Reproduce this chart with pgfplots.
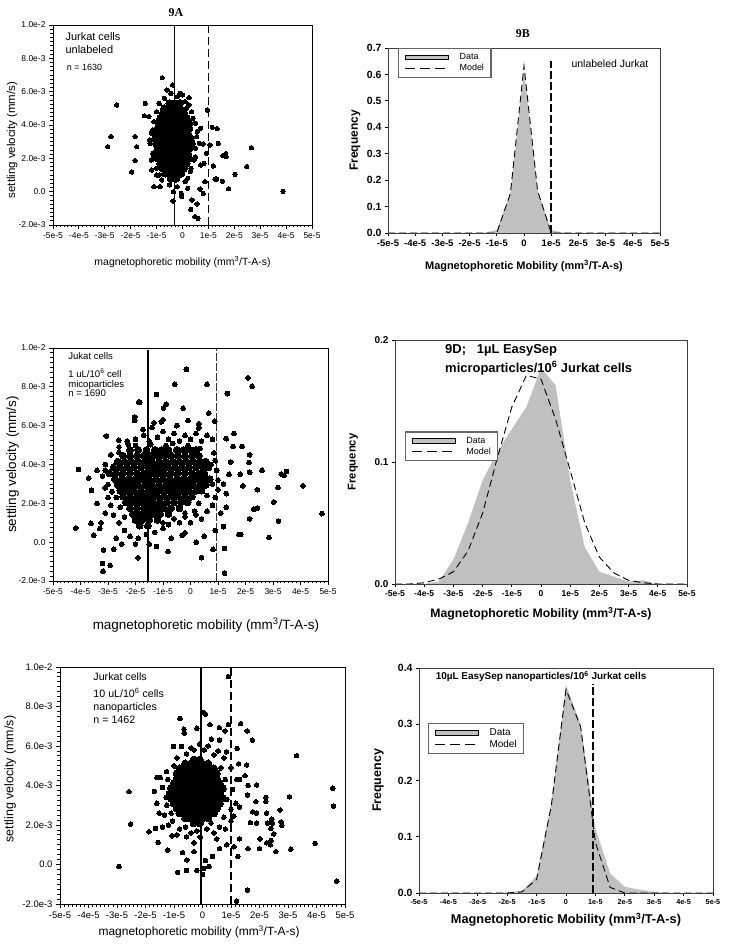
\documentclass[border=0pt]{standalone}
\usepackage{fontspec}
\setmainfont{Liberation Sans}
\newfontfamily\timesf{Liberation Serif}
\usepackage{pgfplots}
\pgfplotsset{compat=1.18}
\definecolor{hg}{RGB}{192,192,192}
\newcommand{\fs}[1]{\fontsize{#1}{#1}\selectfont}
\pgfplotsset{
 sc/.style={only marks, mark=*, mark size=#1, mark options={fill=black,draw=black,line width=0pt}},
 scat/.style={scale only axis, anchor=south west, axis on top, clip=false,
   xmin=-5,xmax=5,ymin=-2,ymax=10,
   xtick={-5,...,5}, xticklabels={-5e-5,-4e-5,-3e-5,-2e-5,-1e-5,0,1e-5,2e-5,3e-5,4e-5,5e-5},
   ytick={-2,0,2,4,6,8,10}, yticklabels={-2.0e-3,0.0,2.0e-3,4.0e-3,6.0e-3,8.0e-3,1.0e-2},
   minor x tick num=6, minor y tick num=7, tick pos=left, tick align=outside,
   major tick length=4bp, minor tick length=2.5bp,
   axis line style={line width=0.9bp}, every tick/.style={black,line width=0.8bp},
   xlabel style={anchor=center}, ylabel style={anchor=center}},
 hist/.style={scale only axis, anchor=south west, axis on top, clip=false,
   xmin=-5,xmax=5,ymin=0,
   xtick={-5,...,5}, xticklabels={-5e-5,-4e-5,-3e-5,-2e-5,-1e-5,0,1e-5,2e-5,3e-5,4e-5,5e-5},
   tick pos=left, tick align=outside, major tick length=3bp,
   axis line style={line width=0.8bp, black!75}, every tick/.style={black,line width=0.8bp},
   xlabel style={anchor=center}, ylabel style={anchor=center},
   legend cell align=left},
 leg/.style={anchor=north west, draw=black!60, line width=1.2bp,
    font=\fs{#1}, inner xsep=6bp, inner ysep=4bp, row sep=1bp, column sep=10bp,
    nodes={inner sep=1bp}},
 dataimg/.style={legend image code/.code={\draw[fill=hg,draw=black,line width=0.6bp] (0bp,-2.2bp) rectangle (43bp,2.2bp);}},
 modelimg/.style={legend image code/.code={\draw[black,line width=0.9bp,dash pattern=on 10bp off 5bp] (0bp,0bp) -- (43bp,0bp);}},
 mdash/.style={black,line width=0.9bp,dash pattern=on 7bp off 4bp},
}
\begin{document}
\begin{tikzpicture}
\path[use as bounding box] (0,0) rectangle (729bp,947bp);

% ---------------- 9A ----------------
\begin{axis}[scat, at={(53bp,722bp)}, width=259bp, height=200bp,
  ticklabel style={font=\fs{8.5}},
  title={\timesf\bfseries 9A}, title style={font=\fs{12}, at={(axis description cs:0.475,1.03)}, anchor=center},
  xlabel={magnetophoretic mobility (mm\textsuperscript{3}/T-A-s)},
  xlabel style={font=\fs{10.5}, at={(axis description cs:0.5,-0.185)}},
  ylabel={settling velocity (mm/s)},
  ylabel style={font=\fs{11.5}, at={(axis description cs:-0.158,0.425)}}]
\addplot[black, line width=1.2bp] coordinates {(-0.3,-2) (-0.3,10)};
\addplot[black, line width=1.2bp, dash pattern=on 8bp off 4bp] coordinates {(1.0,-2) (1.0,10)};
\addplot[sc=3.8] coordinates {
(-0.45,0.8)(-0.25,0.8)
(-0.65,1.1)(-0.45,1.1)(-0.25,1.1)(-0.05,1.1)
(-0.75,1.4)(-0.55,1.4)(-0.35,1.4)(-0.15,1.4)(0.05,1.4)
(-0.85,1.7)(-0.65,1.7)(-0.45,1.7)(-0.25,1.7)(-0.05,1.7)(0.15,1.7)
(-0.95,2.0)(-0.75,2.0)(-0.55,2.0)(-0.35,2.0)(-0.15,2.0)(0.05,2.0)(0.25,2.0)
(-1.0,2.3)(-0.8,2.3)(-0.6,2.3)(-0.4,2.3)(-0.2,2.3)(0.0,2.3)(0.2,2.3)
(-0.95,2.6)(-0.75,2.6)(-0.55,2.6)(-0.35,2.6)(-0.15,2.6)(0.05,2.6)(0.25,2.6)
(-1.0,2.9)(-0.8,2.9)(-0.6,2.9)(-0.4,2.9)(-0.2,2.9)(0.0,2.9)(0.2,2.9)(0.35,2.9)
(-1.05,3.2)(-0.85,3.2)(-0.65,3.2)(-0.45,3.2)(-0.25,3.2)(-0.05,3.2)(0.15,3.2)(0.3,3.2)
(-1.0,3.5)(-0.8,3.5)(-0.6,3.5)(-0.4,3.5)(-0.2,3.5)(0.0,3.5)(0.2,3.5)
(-0.95,3.8)(-0.75,3.8)(-0.55,3.8)(-0.35,3.8)(-0.15,3.8)(0.05,3.8)(0.25,3.8)
(-0.9,4.1)(-0.7,4.1)(-0.5,4.1)(-0.3,4.1)(-0.1,4.1)(0.1,4.1)(0.25,4.1)
(-0.85,4.4)(-0.65,4.4)(-0.45,4.4)(-0.25,4.4)(-0.05,4.4)(0.15,4.4)
(-0.75,4.7)(-0.55,4.7)(-0.35,4.7)(-0.15,4.7)(0.05,4.7)
(-0.7,5.0)(-0.5,5.0)(-0.3,5.0)(-0.1,5.0)
(-0.5,5.3)(-0.3,5.3)(-0.1,5.3)};
\addplot[sc=2.2] coordinates {
(-1.2,3.5)(-1.25,2.9)(-1.15,2.3)(-1.1,4.2)(-1.0,4.8)(-0.9,5.3)(-0.7,5.6)(-0.2,5.7)(0.1,5.4)
(0.35,4.8)(0.5,4.1)(0.55,3.3)(0.5,2.6)(0.45,1.9)(0.3,1.2)(0.1,0.6)(-0.2,0.3)(-0.5,0.4)
(-0.8,0.7)(-1.0,1.4)(-1.2,1.9)(-0.6,6.1)(-0.45,5.9)(0.65,2.9)(0.7,1.6)(-1.3,4.5)(0.2,0.2)
(-0.35,0.0)(-0.05,-0.1)(-0.9,1.0)(0.7,3.8)(0.25,5.2)
(-0.78,6.84)(-0.38,6.4)(-1.44,5.3)(-2.54,5.2)(-1.47,4.56)(-2.76,3.3)(-2.89,2.7)(-1.83,3.3)
(-1.77,2.7)(-1.83,1.86)(-1.96,1.18)(-1.19,1.3)(-1.10,0.3)(-0.87,0.3)(-0.36,-0.56)(-0.03,-0.3)
(0.36,-0.5)(0.32,-1.06)(0.56,-0.74)(0.48,-1.5)(0.6,-1.6)(0.68,0.16)(0.8,-0.1)(0.87,0.6)
(0.83,1.7)(0.93,2.3)(0.96,4.9)(0.8,2.86)(1.15,3.86)(1.34,3.78)(1.38,2.9)(1.06,2.8)(1.19,1.54)
(1.32,0.76)(1.26,0.75)(1.54,0.62)(1.55,2.16)(1.67,2.28)(1.68,2.1)(1.78,0.18)(2.03,1.04)
(2.48,1.5)(2.66,2.64)(3.88,0.02)(-0.1,5.9)(0.0,5.8)(0.25,5.64)(0.16,5.0)(-1.14,3.7)
(-1.27,3.1)(-1.1,2.1)(-1.0,1.0)(0.2,0.8)(0.33,1.4)(0.5,2.1)(0.57,3.6)(0.4,4.4)};
\node[anchor=west,font=\fs{11}] at (rel axis cs:0.035,0.94) {Jurkat cells};
\node[anchor=west,font=\fs{11}] at (rel axis cs:0.035,0.875) {unlabeled};
\node[anchor=west,font=\fs{9}] at (rel axis cs:0.04,0.79) {n = 1630};
\end{axis}

% ---------------- 9B ----------------
\begin{axis}[hist, at={(388bp,714bp)}, width=272bp, height=185bp, ymax=0.7,
  ytick={0,0.1,...,0.7}, yticklabels={0.0,0.1,0.2,0.3,0.4,0.5,0.6,0.7},
  yticklabel style={font=\bfseries\fs{10.5}}, xticklabel style={font=\bfseries\fs{9.5}},
  title={\timesf\bfseries 9B}, title style={font=\fs{12}, at={(axis description cs:0.496,1.043)}, anchor=center},
  xlabel={Magnetophoretic Mobility (mm\textsuperscript{3}/T-A-s)},
  xlabel style={font=\bfseries\fs{11}, at={(axis description cs:0.5,-0.178)}},
  ylabel={Frequency}, ylabel style={font=\bfseries\fs{12}, at={(axis description cs:-0.121,0.5)}},
  legend style={leg=9, at={(rel axis cs:0.037,1.0)}}]
\addplot[fill=hg, draw=none, dataimg] coordinates {
(-5,0)(-4.5,0)(-4,0)(-3.5,0)(-3,0)(-2.5,0)(-2,0)(-1.5,0)(-1,0.012)(-0.5,0.15)(0,0.615)
(0.5,0.16)(1,0.012)(1.5,0)(2,0)(2.5,0)(3,0)(3.5,0)(4,0)(4.5,0)(5,0)} \closedcycle;
\addplot[mdash, modelimg] coordinates {
(-5,0)(-4.5,0)(-4,0)(-3.5,0)(-3,0)(-2.5,0)(-2,0)(-1.5,0)(-1,0)(-0.5,0.15)(0,0.632)
(0.5,0.16)(1,0)(1.5,0)(2,0)(2.5,0)(3,0)(3.5,0)(4,0)(4.5,0)(5,0)};
\addplot[black, line width=2bp, dash pattern=on 8bp off 3bp, forget plot] coordinates {(1,0) (1,0.65)};
\legend{Data,Model}
\node[font=\fs{10.5}] at (rel axis cs:0.816,0.914) {unlabeled Jurkat};
\end{axis}

% ---------------- 9C (scatter, microparticles) ----------------
\begin{axis}[scat, at={(53bp,366bp)}, width=275bp, height=233bp,
  ticklabel style={font=\fs{8.5}},
  xlabel={magnetophoretic mobility (mm\textsuperscript{3}/T-A-s)},
  xlabel style={font=\fs{13.5}, at={(axis description cs:0.556,-0.189)}},
  ylabel={settling velocity (mm/s)},
  ylabel style={font=\fs{13.5}, at={(axis description cs:-0.147,0.5)}}]
\addplot[black, line width=1.3bp] coordinates {(-1.55,-2) (-1.55,9.9)};
\addplot[black!80, line width=1.6bp, dash pattern=on 8bp off 2bp] coordinates {(0.94,-2) (0.94,10)};
\addplot[sc=3.5] coordinates {
(-2.2,4.75)(-1.9,4.75)(-1.6,4.75)(-1.3,4.75)(-1.05,4.75)(-0.8,4.75)(-0.5,4.75)(-0.25,4.75)(0.0,4.75)(0.2,4.75)
(-2.45,4.45)(-2.2,4.45)(-1.95,4.45)(-1.7,4.45)(-1.45,4.45)(-1.2,4.45)(-0.95,4.45)(-0.7,4.45)(-0.45,4.45)(-0.2,4.45)(0.05,4.45)(0.3,4.45)
(-2.65,4.15)(-2.4,4.15)(-2.15,4.15)(-1.9,4.15)(-1.65,4.15)(-1.4,4.15)(-1.15,4.15)(-0.9,4.15)(-0.65,4.15)(-0.4,4.15)(-0.15,4.15)(0.1,4.15)(0.35,4.15)(0.55,4.15)
(-2.8,3.85)(-2.55,3.85)(-2.3,3.85)(-2.05,3.85)(-1.8,3.85)(-1.55,3.85)(-1.3,3.85)(-1.05,3.85)(-0.8,3.85)(-0.55,3.85)(-0.3,3.85)(-0.05,3.85)(0.2,3.85)(0.45,3.85)(0.65,3.85)
(-2.95,3.55)(-2.7,3.55)(-2.45,3.55)(-2.2,3.55)(-1.95,3.55)(-1.7,3.55)(-1.45,3.55)(-1.2,3.55)(-0.95,3.55)(-0.7,3.55)(-0.45,3.55)(-0.2,3.55)(0.05,3.55)(0.3,3.55)(0.5,3.55)
(-2.75,3.25)(-2.5,3.25)(-2.25,3.25)(-2.0,3.25)(-1.75,3.25)(-1.5,3.25)(-1.25,3.25)(-1.0,3.25)(-0.75,3.25)(-0.5,3.25)(-0.25,3.25)(0.0,3.25)(0.25,3.25)(0.5,3.25)(0.7,3.25)
(-2.65,2.95)(-2.4,2.95)(-2.15,2.95)(-1.9,2.95)(-1.65,2.95)(-1.4,2.95)(-1.15,2.95)(-0.9,2.95)(-0.65,2.95)(-0.4,2.95)(-0.15,2.95)(0.1,2.95)(0.35,2.95)(0.55,2.95)
(-2.55,2.65)(-2.3,2.65)(-2.05,2.65)(-1.8,2.65)(-1.55,2.65)(-1.3,2.65)(-1.05,2.65)(-0.8,2.65)(-0.55,2.65)(-0.3,2.65)(-0.05,2.65)(0.2,2.65)(0.4,2.65)
(-2.45,2.35)(-2.2,2.35)(-1.95,2.35)(-1.7,2.35)(-1.45,2.35)(-1.2,2.35)(-0.95,2.35)(-0.7,2.35)(-0.45,2.35)(-0.2,2.35)(0.05,2.35)
(-2.35,2.05)(-2.1,2.05)(-1.85,2.05)(-1.6,2.05)(-1.35,2.05)(-1.1,2.05)(-0.85,2.05)(-0.6,2.05)(-0.35,2.05)(-0.1,2.05)
(-2.2,1.75)(-1.95,1.75)(-1.7,1.75)(-1.45,1.75)(-1.2,1.75)(-0.95,1.75)(-0.7,1.75)(-0.4,1.75)
(-2.1,1.45)(-1.85,1.45)(-1.6,1.45)(-1.35,1.45)(-1.1,1.45)(-0.8,1.45)
(-2.0,1.15)(-1.75,1.15)(-1.5,1.15)(-1.2,1.15)
(-1.85,0.85)(-1.55,0.85)};
\addplot[sc=2.4] coordinates {
(-0.15,8.9)(2.09,8.46)(2.24,8.03)(-0.57,8.13)(0.6,8.13)(1.34,7.65)(-1.24,7.6)(-1.88,7.22)(-1.85,7.2)
(-0.88,7.1)(-0.98,6.9)(-0.27,6.9)(0.67,6.65)(-2.03,6.45)(-1.0,6.3)(-2.03,6.27)(-1.33,6.15)(-1.06,6.2)
(-0.09,6.27)(0.88,6.23)(0.3,5.88)(-1.73,5.8)(-3.06,5.47)(-2.61,5.25)(-2.27,5.05)(1.3,5.33)(1.58,5.6)
(1.55,4.93)(1.87,4.93)(1.46,4.13)(1.81,3.5)(2.15,3.6)(2.13,4.1)(2.15,4.5)(2.6,3.7)(3.18,2.81)(3.3,3.51)
(3.49,3.64)(3.4,3.45)(4.09,2.9)(4.78,1.47)(3.03,2.07)(3.2,1.08)(2.85,0.24)(2.43,1.76)(2.3,1.7)(2.43,2.7)
(2.15,1.2)(1.9,2.9)(1.83,0.4)(1.76,0.4)(1.24,-0.33)(1.24,-1.6)(0.82,-0.37)(0.4,-0.8)(0.21,0.0)(-0.2,0.48)
(-0.3,0.36)(-0.82,-0.48)(-1.24,-0.22)(-1.91,-0.8)(-2.79,-0.37)(-3.16,-0.4)(-2.92,-1.2)(-3.2,-1.1)(-3.18,-1.5)
(-4.17,0.73)(-4.07,3.74)(-3.7,3.3)(-3.6,2.67)(-3.4,1.99)(-3.52,0.36)(-3.62,0.97)(-3.25,1.0)(-3.3,0.7)
(-3.1,1.5)(-3.0,2.97)(-3.4,3.7)
(-2.0,5.3)(-1.7,5.5)(-1.5,5.2)(-1.2,5.4)(-1.0,5.7)(-0.8,5.3)(-0.6,5.6)(-0.4,5.2)(-0.2,5.5)(0.0,5.3)
(0.2,5.6)(0.4,5.2)(0.6,5.5)(0.8,5.3)(-2.3,5.2)(-1.4,5.9)(-0.5,6.0)(0.3,6.1)(-2.6,4.9)(-2.9,4.5)(-3.1,4.0)
(-3.2,3.4)(-3.1,2.8)(-3.0,2.3)(-2.9,1.9)(-2.8,1.4)(-2.6,1.0)(-2.4,0.6)(-2.2,0.3)(-1.9,0.2)(-1.6,0.4)
(-1.3,0.5)(-1.0,0.7)(-0.8,0.9)(-0.6,1.2)(-0.4,1.0)(-0.2,1.3)(0.0,1.0)(0.2,1.4)(0.4,1.2)(0.6,1.6)(0.8,1.9)
(0.9,2.3)(1.0,2.7)(1.0,3.2)(0.95,3.7)(0.9,4.2)(0.85,4.6)(1.2,3.0)(1.3,2.5)(1.4,3.5)(1.1,1.5)(1.3,1.8)
(1.2,0.8)(0.9,0.6)(0.5,0.3)(-0.7,0.2)(-1.5,-0.1)(-2.5,-0.1)(-2.7,0.2)(-2.0,-0.1)
(-2.0,4.98)(-1.45,5.02)(-0.9,4.97)(-0.65,5.08)(-0.1,4.97)(0.35,4.82)(-2.6,4.62)(-3.1,3.7)(0.75,4.0)
(0.8,3.0)(0.6,2.4)(0.3,2.0)(0.15,1.6)(-0.2,1.5)(-0.6,1.2)(-1.0,1.0)(-2.4,1.3)(-2.55,1.8)(-2.7,2.3)(-2.85,2.6)};
\node[anchor=west,font=\fs{9.6}] at (rel axis cs:0.043,0.964) {Jukat cells};
\node[anchor=west,font=\fs{9.6}] at (rel axis cs:0.043,0.893) {1 uL/10\textsuperscript{6} cell};
\node[anchor=west,font=\fs{9.6}] at (rel axis cs:0.043,0.843) {micoparticles};
\node[anchor=west,font=\fs{9.6}] at (rel axis cs:0.043,0.805) {n = 1690};
\end{axis}

% ---------------- 9D ----------------
\begin{axis}[hist, at={(395bp,363bp)}, width=292bp, height=244bp, ymax=0.2,
  ytick={0,0.1,0.2}, yticklabels={0.0,0.1,0.2},
  yticklabel style={font=\bfseries\fs{10}}, xticklabel style={font=\bfseries\fs{8.6}},
  xlabel={Magnetophoretic Mobility (mm\textsuperscript{3}/T-A-s)},
  xlabel style={font=\bfseries\fs{12.3}, at={(axis description cs:0.5,-0.123)}},
  ylabel={Frequency}, ylabel style={font=\bfseries\fs{11.3}, at={(axis description cs:-0.144,0.5)}},
  legend style={leg=9, at={(rel axis cs:0.034,0.625)}}]
\addplot[fill=hg, draw=none, dataimg] coordinates {
(-5,0)(-4.5,0)(-4,0)(-3.5,0.002)(-3,0.02)(-2.5,0.05)(-2,0.085)(-1.5,0.108)(-1,0.127)(-0.5,0.145)(0,0.177)
(0.5,0.163)(1,0.085)(1.5,0.03)(2,0.01)(2.5,0.006)(3,0.002)(3.5,0.003)(4,0)(4.5,0)(5,0)} \closedcycle;
\addplot[mdash, modelimg] coordinates {
(-5,0)(-4.5,0)(-4,0.001)(-3.5,0.004)(-3,0.01)(-2.5,0.027)(-2,0.058)(-1.5,0.103)(-1,0.145)(-0.5,0.171)(0,0.168)
(0.5,0.135)(1,0.093)(1.5,0.05)(2,0.022)(2.5,0.009)(3,0.003)(3.5,0.001)(4,0)(4.5,0)(5,0)};
\legend{Data,Model}
\node[anchor=west,font=\bfseries\fs{13}] at (rel axis cs:0.16,0.959) {9D;\ \ \ 1µL EasySep};
\node[anchor=west,font=\bfseries\fs{13}] at (rel axis cs:0.16,0.884) {microparticles/10\textsuperscript{6} Jurkat cells};
\end{axis}

% ---------------- 9E (scatter, nanoparticles) ----------------
\begin{axis}[scat, at={(60bp,43bp)}, width=285bp, height=237bp,
  ticklabel style={font=\fs{9.5}},
  xlabel={magnetophoretic mobility (mm\textsuperscript{3}/T-A-s)},
  xlabel style={font=\fs{12}, at={(axis description cs:0.488,-0.118)}},
  ylabel={settling velocity (mm/s)},
  ylabel style={font=\fs{12.5}, at={(axis description cs:-0.175,0.527)}}]
\addplot[black, line width=1.3bp] coordinates {(-0.05,-2) (-0.05,10)};
\addplot[black, line width=1.3bp, dash pattern=on 8bp off 4bp] coordinates {(1.0,-2) (1.0,10)};
\addplot[sc=3.8] coordinates {
(-0.3,2.1)(-0.1,2.1)
(-0.6,2.35)(-0.4,2.35)(-0.2,2.35)(0.0,2.35)(0.2,2.35)
(-0.8,2.6)(-0.6,2.6)(-0.4,2.6)(-0.2,2.6)(0.0,2.6)(0.2,2.6)(0.4,2.6)
(-0.9,2.85)(-0.7,2.85)(-0.5,2.85)(-0.3,2.85)(-0.1,2.85)(0.1,2.85)(0.3,2.85)(0.5,2.85)
(-1.0,3.1)(-0.8,3.1)(-0.6,3.1)(-0.4,3.1)(-0.2,3.1)(0.0,3.1)(0.2,3.1)(0.4,3.1)(0.6,3.1)
(-1.1,3.35)(-0.9,3.35)(-0.7,3.35)(-0.5,3.35)(-0.3,3.35)(-0.1,3.35)(0.1,3.35)(0.3,3.35)(0.5,3.35)(0.7,3.35)
(-1.0,3.6)(-0.8,3.6)(-0.6,3.6)(-0.4,3.6)(-0.2,3.6)(0.0,3.6)(0.2,3.6)(0.4,3.6)(0.6,3.6)
(-1.1,3.85)(-0.9,3.85)(-0.7,3.85)(-0.5,3.85)(-0.3,3.85)(-0.1,3.85)(0.1,3.85)(0.3,3.85)(0.5,3.85)(0.7,3.85)
(-1.0,4.1)(-0.8,4.1)(-0.6,4.1)(-0.4,4.1)(-0.2,4.1)(0.0,4.1)(0.2,4.1)(0.4,4.1)(0.6,4.1)
(-0.9,4.35)(-0.7,4.35)(-0.5,4.35)(-0.3,4.35)(-0.1,4.35)(0.1,4.35)(0.3,4.35)(0.5,4.35)
(-0.9,4.6)(-0.7,4.6)(-0.5,4.6)(-0.3,4.6)(-0.1,4.6)(0.1,4.6)(0.3,4.6)(0.5,4.6)
(-0.8,4.85)(-0.6,4.85)(-0.4,4.85)(-0.2,4.85)(0.0,4.85)(0.2,4.85)(0.4,4.85)
(-0.6,5.1)(-0.4,5.1)(-0.2,5.1)(0.0,5.1)(0.2,5.1)
(-0.3,5.3)(-0.1,5.3)};
\addplot[sc=2.3] coordinates {
(0.91,9.51)(0.0,7.69)(0.1,7.62)(-0.79,7.4)(-0.65,6.85)(-0.64,6.65)(-0.2,6.9)(0.26,7.08)(0.59,6.93)
(0.79,6.76)(0.91,7.08)(1.34,7.13)(1.57,6.76)(1.75,6.3)(-0.74,5.97)(-1.02,5.97)(0.31,6.35)(0.6,6.3)
(1.22,5.88)(1.55,5.04)(1.49,4.5)(1.3,4.3)(1.6,4.0)(1.9,4.03)(1.58,3.52)(1.87,3.18)(2.22,3.4)(2.22,3.18)
(1.3,2.9)(1.76,2.67)(1.9,2.6)(1.68,2.12)(1.9,2.1)(2.25,2.6)(2.28,2.1)(2.45,2.1)(2.43,2.3)(2.72,2.76)
(2.4,1.83)(2.76,2.16)(2.4,1.21)(2.02,1.3)(2.25,1.1)(2.5,1.55)(2.78,1.98)(2.57,0.65)(2.38,1.0)(2.0,0.8)
(1.3,1.3)(1.1,0.9)(1.24,0.4)(1.6,0.8)(1.2,-1.85)(1.58,-1.3)(0.23,-0.1)(0.05,-0.2)(0.0,-0.5)(-0.2,-0.3)
(-0.56,-0.3)(-0.87,-0.4)(-0.55,0.23)(-0.7,0.6)(-0.3,0.65)(0.1,0.2)(0.35,0.4)(0.6,0.8)(0.85,1.0)
(-2.93,-0.1)(-2.52,2.05)(-2.58,3.69)(-1.88,1.66)(-1.56,1.12)(-1.65,1.83)(-1.4,1.9)(-1.22,0.73)(-1.07,1.45)
(-1.52,2.6)(-1.6,3.1)(-1.69,3.7)(-1.6,4.4)(-1.48,4.4)(-1.26,4.7)(-1.0,5.0)(-1.22,4.3)(-1.4,3.9)(-1.28,3.4)
(-1.25,3.0)(-1.33,2.5)(-1.05,2.2)(-0.8,1.8)(-0.56,1.4)(-0.3,1.1)(-0.08,1.4)(0.15,1.8)(0.4,1.6)(0.6,1.9)
(0.8,1.8)(1.0,2.2)(1.1,2.45)(1.0,2.8)(1.17,3.1)(1.05,3.8)(1.2,4.3)(1.0,4.9)(0.75,5.4)(0.55,5.75)(0.2,6.0)
(-0.1,6.1)(-0.4,5.9)(-0.56,5.6)(-0.3,5.8)(0.06,5.8)(0.4,5.55)(0.84,5.7)(1.27,5.1)
(4.57,3.86)(4.6,2.96)(4.71,-0.84)(3.95,1.07)(3.05,3.43)(3.3,5.51)(3.1,0.78)
(-1.1,2.6)(-1.2,2.0)(-0.9,1.5)(-0.6,1.9)(-0.2,1.7)(0.3,2.1)(0.75,2.4)(0.85,3.3)(0.8,4.3)(0.65,4.9)
(-0.9,5.4)(-1.2,3.6)(-0.4,1.6)(0.5,1.3)};
\node[anchor=west,font=\fs{10.7}] at (rel axis cs:0.105,0.959) {Jurkat cells};
\node[anchor=west,font=\fs{10.7}] at (rel axis cs:0.105,0.889) {10 uL/10\textsuperscript{6} cells};
\node[anchor=west,font=\fs{10.7}] at (rel axis cs:0.105,0.83) {nanoparticles};
\node[anchor=west,font=\fs{10.7}] at (rel axis cs:0.105,0.776) {n = 1462};
\end{axis}

% ---------------- 9F ----------------
\begin{axis}[hist, at={(419bp,54bp)}, width=294bp, height=225bp, ymax=0.4,
  ytick={0,0.1,0.2,0.3,0.4}, yticklabels={0.0,0.1,0.2,0.3,0.4},
  yticklabel style={font=\bfseries\fs{10.5}}, xticklabel style={font=\bfseries\fs{7.3}},
  xlabel={Magnetophoretic Mobility (mm\textsuperscript{3}/T-A-s)},
  xlabel style={font=\bfseries\fs{12.8}, at={(axis description cs:0.5,-0.12)}},
  ylabel={Frequency}, ylabel style={font=\bfseries\fs{12.5}, at={(axis description cs:-0.139,0.5)}},
  legend style={leg=10, at={(rel axis cs:0.031,0.756)}}]
\addplot[fill=hg, draw=none, dataimg] coordinates {
(-5,0)(-4.5,0)(-4,0)(-3.5,0)(-3,0)(-2.5,0)(-2,0.001)(-1.5,0.004)(-1,0.03)(-0.5,0.16)(0,0.37)
(0.5,0.30)(1,0.115)(1.5,0.035)(2,0.011)(2.5,0.006)(3,0.002)(3.5,0)(4,0)(4.5,0)(5,0)} \closedcycle;
\addplot[mdash, modelimg] coordinates {
(-5,0)(-4.5,0)(-4,0)(-3.5,0)(-3,0)(-2.5,0)(-2,0)(-1.5,0.002)(-1,0.024)(-0.5,0.155)(0,0.362)
(0.5,0.295)(1,0.09)(1.5,0.01)(2,0)(2.5,0)(3,0)(3.5,0)(4,0)(4.5,0)(5,0)};
\addplot[black, line width=2.2bp, dash pattern=on 8bp off 3bp, forget plot] coordinates {(0.93,0) (0.93,0.372)};
\legend{Data,Model}
\node[anchor=west,font=\bfseries\fs{10}] at (rel axis cs:0.045,0.961) {10µL EasySep nanoparticles/10\textsuperscript{6} Jurkat cells};
\end{axis}
\end{tikzpicture}
\end{document}
